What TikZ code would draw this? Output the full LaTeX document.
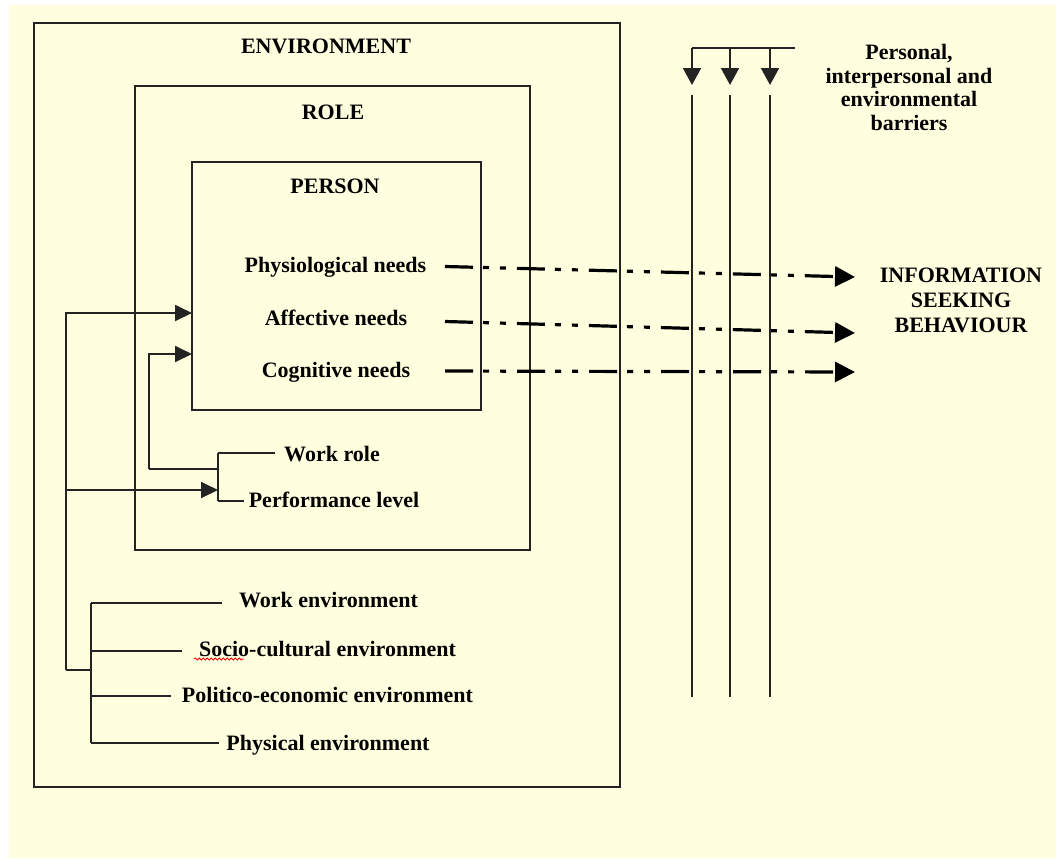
\documentclass[tikz,border=0pt]{standalone}
\usepackage{fontspec}
\setmainfont{Liberation Serif}
\usetikzlibrary{arrows.meta,decorations.pathmorphing}
\definecolor{cream}{RGB}{255,255,224}
\definecolor{ink}{RGB}{35,35,35}
\begin{document}
\begin{tikzpicture}[x=0.75pt,y=-0.75pt,
  lbl/.style={font=\bfseries\fontsize{16.5}{18}\selectfont, inner sep=0pt, anchor=base, text=black},
  boxnode/.style={draw=ink, line width=1.5pt, inner sep=0pt, fill=none},
  wire/.style={draw=ink, line width=1.4pt},
  inarrow/.style={wire, -{Triangle[length=12.75pt,width=12pt]}},
  downarrow/.style={wire, -{Triangle[length=12.75pt,width=13.5pt]}},
  dashline/.style={draw=black, line width=2.4pt,
    dash pattern=on 21pt off 7.5pt on 4.5pt off 8.25pt on 4.5pt off 8.25pt,
    -{Triangle[length=15pt,width=15pt]}},
]
\useasboundingbox (0,0) rectangle (1056,858);
\fill[white] (0,0) rectangle (1056,858);
\fill[cream] (9,5) rectangle (1056,858);

% boxes
\node[boxnode, minimum width=439.5pt, minimum height=573pt] (env) at (327,405) {};
\node[boxnode, minimum width=296.25pt, minimum height=348pt] (role) at (332.5,318) {};
\node[boxnode, minimum width=216.75pt, minimum height=186pt] (person) at (336.5,286) {};

% titles
\node[lbl] (envT) at (326,53) {ENVIRONMENT};
\node[lbl] (roleT) at (333,119) {ROLE};
\node[lbl] (persT) at (335,193) {PERSON};

% needs
\node[lbl] (phys) at (335.5,272) {Physiological needs};
\node[lbl] (aff) at (336,325) {Affective needs};
\node[lbl] (cog) at (336,377) {Cognitive needs};

% role factors
\node[lbl] (wrole) at (332,461) {Work role};
\node[lbl] (perf) at (334,507) {Performance level};

% environment factors
\node[lbl] (wenv) at (328.5,607) {Work environment};
\node[lbl] (soc) at (327.5,656) {Socio-cultural environment};
\node[lbl] (pol) at (327.5,702) {Politico-economic environment};
\node[lbl] (physenv) at (328,750) {Physical environment};

% right side texts (base anchor = last line's baseline)
\node[lbl, align=center, font=\bfseries\fontsize{16.5}{18.75}\selectfont] (isb) at (961,332) {INFORMATION\\SEEKING\\BEHAVIOUR};
\node[lbl, align=center, font=\bfseries\fontsize{16.5}{17.6}\selectfont] (barr) at (909,130) {Personal,\\interpersonal and\\environmental\\barriers};

% spell-check squiggle under "Socio"
\draw[red, line width=0.6pt, decorate, decoration={snake, amplitude=0.8pt, segment length=3pt}] (194,659) -- (244,659);

% coordinates
\coordinate (e1) at (91,603);
\coordinate (e2) at (91,651);
\coordinate (e3) at (91,696);
\coordinate (e4) at (91,743);
\coordinate (eJ) at (91,670);
\coordinate (lB) at (66,670);
\coordinate (lT) at (66,313);
\coordinate (lM) at (66,490);
\coordinate (pA) at (192,313);
\coordinate (pB) at (192,354);
\coordinate (r1) at (218,453);
\coordinate (r2) at (218,501);
\coordinate (rJ) at (218,469);
\coordinate (rL) at (149,469);
\coordinate (rT) at (149,354);
\coordinate (rM) at (218,490);

% environment tree
\draw[wire] (e1) -- (e4);
\draw[wire, shorten >=12.75pt] (e1) -- (e1 -| wenv.west);
\draw[wire, shorten >=12.75pt] (e2) -- (e2 -| soc.west);
\draw[wire, shorten >=8.25pt] (e3) -- (e3 -| pol.west);
\draw[wire, shorten >=5.25pt] (e4) -- (e4 -| physenv.west);
\draw[wire] (lB) -- (eJ);
\draw[inarrow] (lB) -- (lT) -- (pA);
\draw[inarrow] (lM) -- (rM);

% role tree
\draw[wire] (r2) -- (r1);
\draw[wire, shorten >=6.75pt] (r1) -- (r1 -| wrole.west);
\draw[wire, shorten >=3.75pt] (r2) -- (r2 -| perf.west);
\draw[wire] (rJ) -- (rL);
\draw[inarrow] (rL) -- (rT) -- (pB);

% barriers
\coordinate (b0) at (795,48);
\coordinate (b1) at (692,48);
\coordinate (b2) at (730,48);
\coordinate (b3) at (770,48);
\coordinate (b1t) at (692,85);
\coordinate (b2t) at (730,85);
\coordinate (b3t) at (770,85);
\coordinate (v1a) at (692,95);
\coordinate (v2a) at (730,95);
\coordinate (v3a) at (770,95);
\coordinate (v1b) at (692,697);
\coordinate (v2b) at (730,697);
\coordinate (v3b) at (770,697);
\draw[wire] (b0) -- (b1);
\draw[downarrow] (b1) -- (b1t);
\draw[downarrow] (b2) -- (b2t);
\draw[downarrow] (b3) -- (b3t);
\draw[wire] (v1a) -- (v1b);
\draw[wire] (v2a) -- (v2b);
\draw[wire] (v3a) -- (v3b);

% information seeking flows
\coordinate (d1s) at (445,266.5);
\coordinate (d1e) at (855,277);
\coordinate (d2s) at (445,321.5);
\coordinate (d2e) at (855,333);
\coordinate (d3s) at (445,371);
\coordinate (d3e) at (855,372);
\draw[dashline] (d1s) -- (d1e);
\draw[dashline] (d2s) -- (d2e);
\draw[dashline] (d3s) -- (d3e);
\end{tikzpicture}
\end{document}
